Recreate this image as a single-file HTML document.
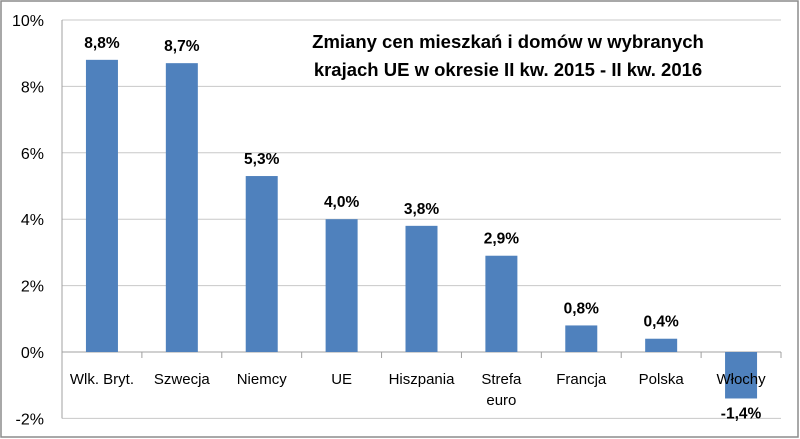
<!DOCTYPE html>
<html><head><meta charset="utf-8"><style>
body{margin:0;background:#fff}
svg{display:block;font-family:"Liberation Sans",sans-serif}
</style></head><body>
<svg width="800" height="439">
<rect x="1" y="1" width="797" height="436" fill="#fff" stroke="#8c8c8c" stroke-width="1.5"/>
<g id="grid"></g><g id="bars"></g><g id="labels"></g>
<text x="508" y="48" font-size="18.5" font-weight="bold" text-anchor="middle"><tspan x="508">Zmiany cen mieszkań i domów w wybranych</tspan><tspan x="508" dy="28">krajach UE w okresie II kw. 2015 - II kw. 2016</tspan></text>
<script>
const categories=[["Wlk. Bryt."],["Szwecja"],["Niemcy"],["UE"],["Hiszpania"],["Strefa","euro"],["Francja"],["Polska"],["Włochy"]];
const values=[8.8,8.7,5.3,4.0,3.8,2.9,0.8,0.4,-1.4];
const valueLabels=["8,8%","8,7%","5,3%","4,0%","3,8%","2,9%","0,8%","0,4%","-1,4%"];
const yTicks=[-2,0,2,4,6,8,10];
const yTickLabels=["-2%","0%","2%","4%","6%","8%","10%"];
const NS="http://www.w3.org/2000/svg";
const x0=62,x1=781,bandW=(x1-x0)/categories.length;
const y=v=>352-v*33.2;
const xc=i=>x0+bandW*(i+0.5);
function mk(tag,attrs,parent,txt){const e=document.createElementNS(NS,tag);for(const k in attrs)e.setAttribute(k,attrs[k]);if(txt!==undefined)e.textContent=txt;document.getElementById(parent).appendChild(e);return e;}
yTicks.forEach((t,i)=>{
 const g=mk("line",{x1:x0,x2:x1,y1:y(t),y2:y(t),stroke:t===0?"#a0a0a0":"#c8c8c8","stroke-width":1},"grid");
 
 
 const l=mk("text",{x:44,y:y(t)+6,"font-size":16,"text-anchor":"end"},"grid",yTickLabels[i]);
 
 
});
const ax=mk("line",{x1:x0,x2:x0,y1:y(10),y2:y(-2),stroke:"#a0a0a0"},"grid");


for(let i=0;i<=categories.length;i++){const tk=mk("line",{x1:x0+bandW*i,x2:x0+bandW*i,y1:352,y2:358,stroke:"#a0a0a0"},"grid");
 
 }
values.forEach((v,i)=>{
 const bw=32,top=Math.min(y(v),y(0)),h=Math.abs(y(v)-y(0));
 const r=mk("rect",{x:xc(i)-bw/2,y:top,width:bw,height:h,fill:"#4f81bd"},"bars");
 
 
 const vl=mk("text",{x:xc(i),y:v>=0?y(v)-12:y(v)+20,"font-size":15.5,"font-weight":"bold","text-anchor":"middle"},"labels",valueLabels[i]);
 
 
 categories[i].forEach((ln,j)=>{
  const cl=mk("text",{x:xc(i),y:384+j*21,"font-size":15,"text-anchor":"middle"},"labels",ln);
  
  
 });
});
</script>
</svg>
</body></html>
